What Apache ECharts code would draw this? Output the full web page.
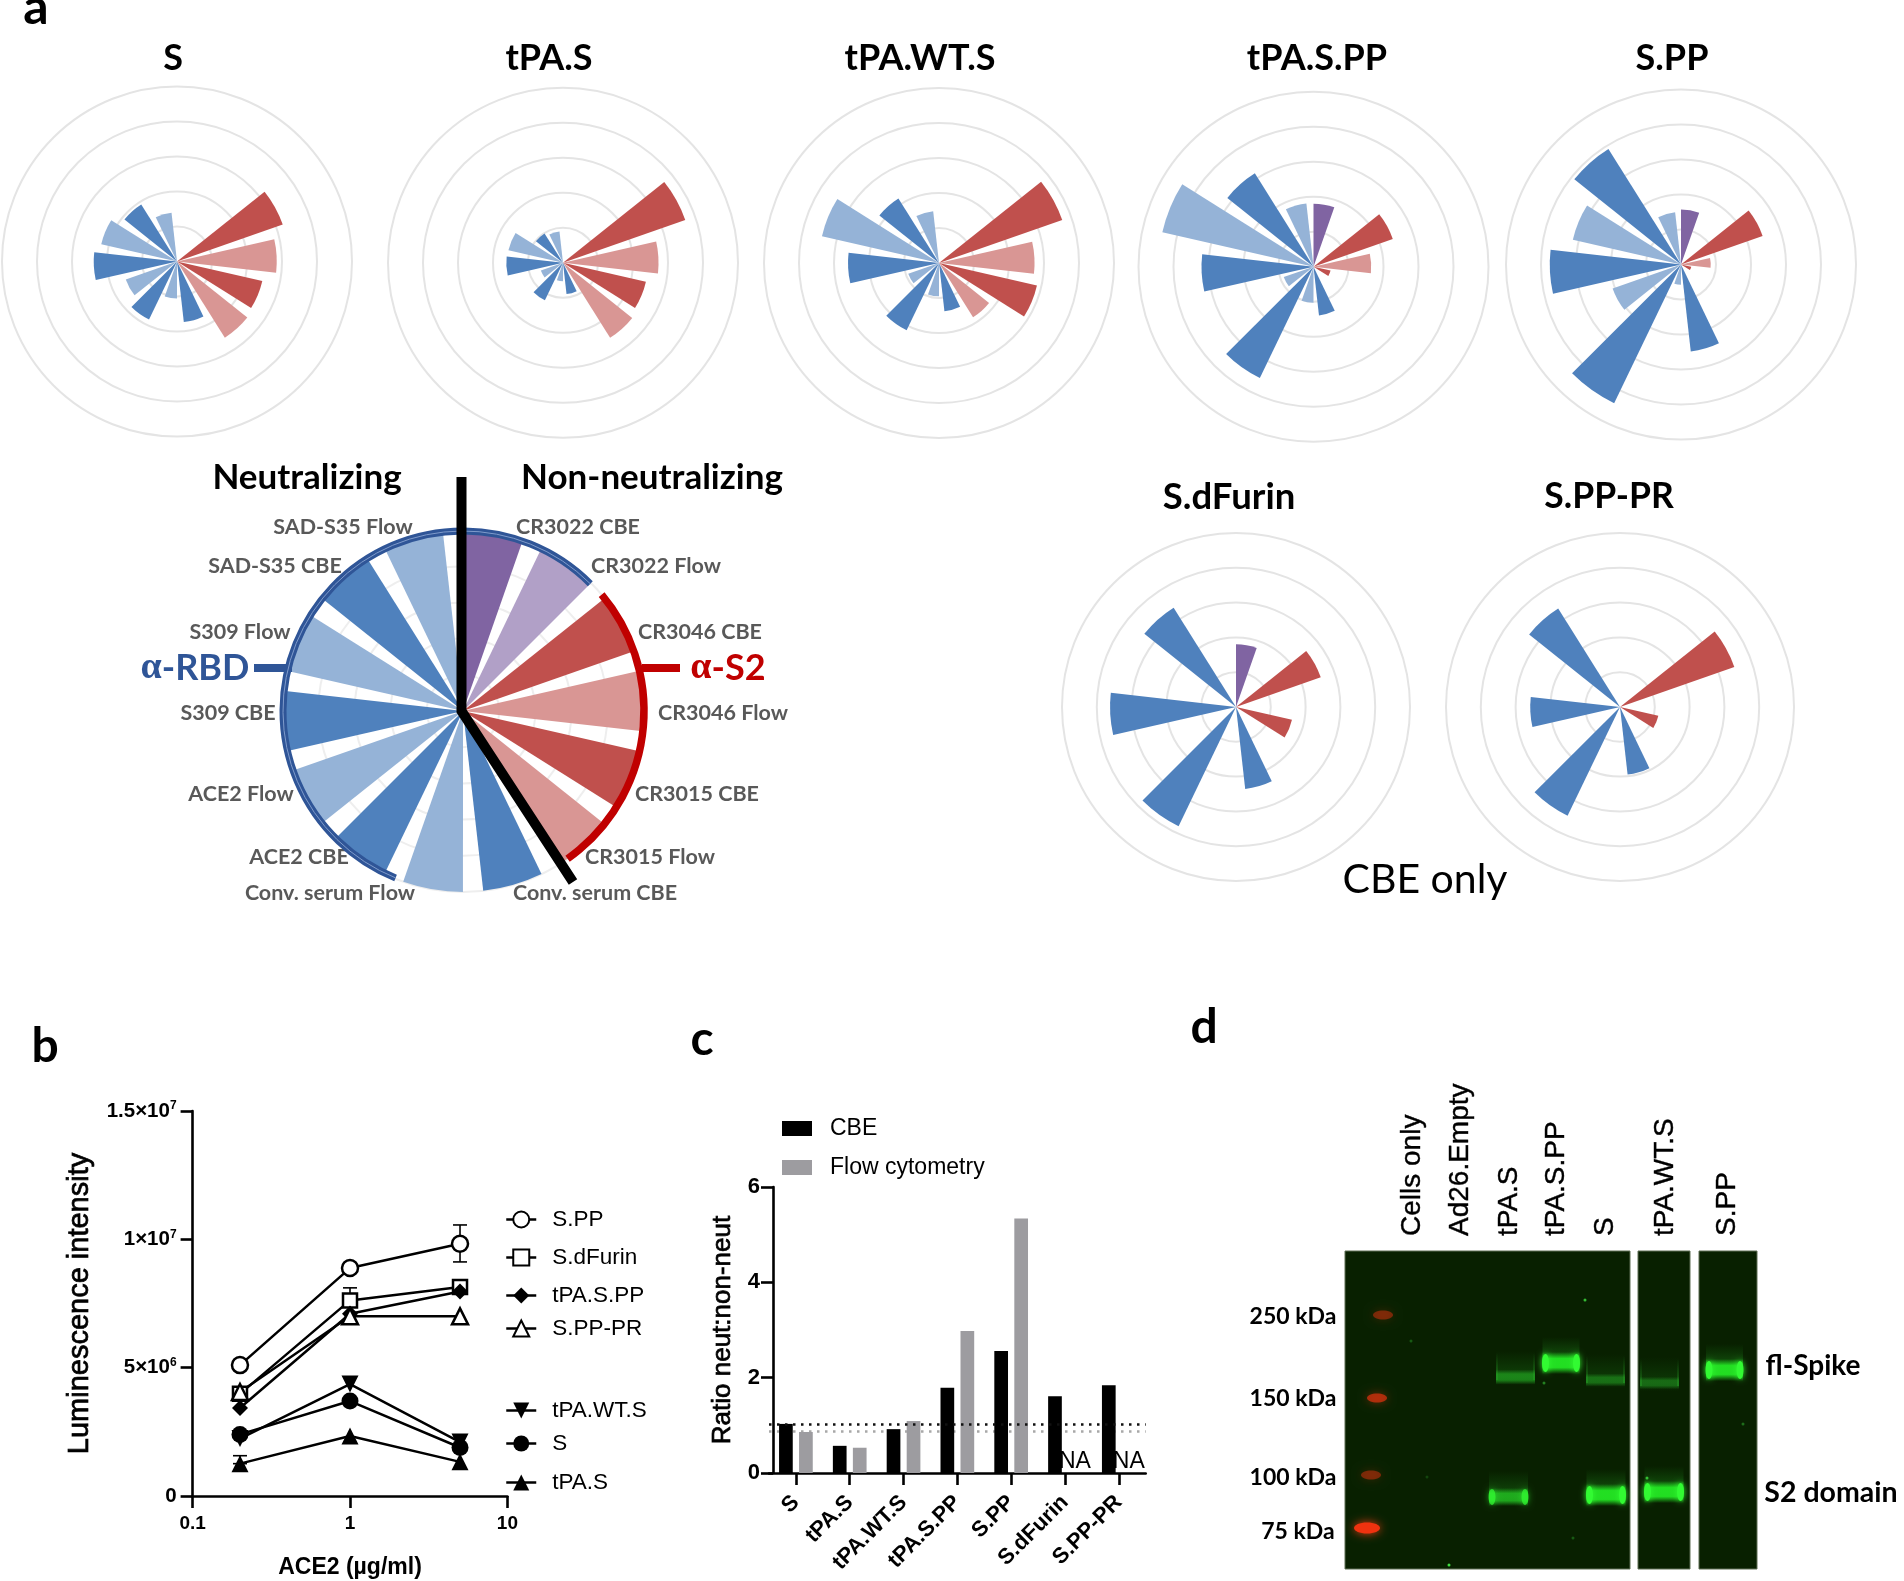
<!DOCTYPE html>
<html><head><meta charset="utf-8">
<style>html,body{margin:0;padding:0;background:#fff}#c{width:1904px;height:1581px}</style>
<script src="https://cdn.jsdelivr.net/npm/echarts@6/dist/echarts.min.js"></script>
</head><body><div id="c"></div>
<script>
// ---------- panel a ----------
const antibodies=['CR3022 CBE','CR3022 Flow','CR3046 CBE','CR3046 Flow','CR3015 CBE','CR3015 Flow','Conv. serum CBE','Conv. serum Flow','ACE2 CBE','ACE2 Flow','S309 CBE','S309 Flow','SAD-S35 CBE','SAD-S35 Flow'];
const roseS      =[0,0,3.2,2.85,2.5,2.57,1.74,1.06,1.84,1.55,2.38,2.22,1.92,1.4];
const roseTpaS   =[0,0,3.7,2.73,2.43,2.53,0.9,0.53,1.19,0.67,1.62,1.6,0.99,0.9];
const roseTpaWtS =[0,0,3.73,2.73,2.87,1.83,1.39,0.95,2.13,0.93,2.6,3.43,2.18,1.49];
const roseTpaSPP =[1.8,0,2.4,1.65,0.5,0,1.4,1.03,3.53,0.9,3.2,4.43,3.15,1.82];
const roseSPP    =[1.57,0,2.47,0.85,0.3,0,2.5,0.58,4.4,2.07,3.75,3.17,3.9,1.5];
const roseSdFurin=[1.8,0,2.58,0,1.65,0,2.37,0,3.8,0,3.62,0,3.37,0];
const roseSPPPR  =[0,0,3.48,0,1.13,0,1.95,0,3.47,0,2.58,0,3.34,0];
const roseKey    =[5,5,5,5,5,5,5,5,5,5,5,5,5,5];
const roseColors =['#8064A2','#B1A0C7','#C0504D','#D99694','#C0504D','#D99694','#4F81BD','#95B3D7','#4F81BD','#95B3D7','#4F81BD','#95B3D7','#4F81BD','#95B3D7'];
// ---------- panel b ----------
const doses=[0.2,1,5];
const lumSPP    =[5.1e6,8.88e6,9.83e6];
const lumSdFurin=[3.98e6,7.62e6,8.14e6];
const lumTpaSPP =[3.43e6,7.1e6,7.97e6];
const lumSPPPR  =[4.05e6,7.0e6,7.0e6];
const lumTpaWtS =[2.24e6,4.36e6,2.1e6];
const lumS      =[2.4e6,3.7e6,1.89e6];
const lumTpaS   =[1.26e6,2.34e6,1.33e6];
const errDose=[5,1,0.2];
const errLow =[9.12e6,7.62e6,1.26e6];
const errHigh=[10.56e6,8.11e6,1.57e6];
// ---------- panel c ----------
const vaccines=['S','tPA.S','tPA.WT.S','tPA.S.PP','S.PP','S.dFurin','S.PP-PR'];
const ratioCBE =[1.03,0.57,0.92,1.79,2.56,1.61,1.84];
const ratioFlow=[0.86,0.53,1.09,2.98,5.34,null,null];
const refCBE=1.03, refFlow=0.87;
// ---------- panel d ----------
const lanes=['Cells only','Ad26.Empty','tPA.S','tPA.S.PP','S','tPA.WT.S','S.PP'];
const kDaLabels=['250 kDa','150 kDa','100 kDa','75 kDa'];
const bandLane     =[170.5,216,260.5,314.5,379.5,163.5,261,319];
const bandMigration=[126,112,129,132,119,246,244,241];
const bandIntensity=[0.5,1,0.36,0.32,1,0.72,1,1];
const ladderLane     =[38,32,26,22];
const ladderMigration=[64,147,224,277];
const ladderIntensity=[0.45,0.65,0.45,1];
const speckLane     =[240,66,82,199,398,302,228,104];
const speckMigration=[49,90,226,132,173,227,287,314];
const speckIntensity=[0.8,0.3,0.2,0.5,0.4,0.8,0.3,1];

const sans='"Liberation Sans"', lato='Lato';
const roseLayout=[
 [roseS,177,261.5,175],[roseTpaS,563,262.8,175],[roseTpaWtS,939,263,175],[roseTpaSPP,1313.5,266.7,175],
 [roseSPP,1681,264.5,175],[roseSdFurin,1236,707,174],[roseSPPPR,1620,707,174],[roseKey,463,711,181]];
const keyLabelX=[578,656,700,723,697,650,595,330,299,241,228,240,275,343];
const keyLabelY=[527,566,632,713,794,857,893,893,857,794,713,632,566,527];
const polar=[],angleAxis=[],radiusAxis=[],series=[];
roseLayout.forEach(([vals,cx,cy,r],i)=>{
  const isKey=vals===roseKey;
  polar.push({center:[cx,cy],radius:[0,r]});
  angleAxis.push({polarIndex:i,type:'category',data:antibodies,startAngle:93.2,
    axisLine:{show:false},axisTick:{show:false},splitLine:{show:false},axisLabel:{show:false}});
  radiusAxis.push({polarIndex:i,type:'value',min:0,max:5,interval:1,
    axisLine:{show:false},axisTick:{show:false},axisLabel:{show:false},
    splitLine:{show:true,lineStyle:{color:isKey?'#eeeeee':'#e4e4e4',width:2}}});
  series.push({type:'bar',coordinateSystem:'polar',polarIndex:i,barWidth:'75%',silent:true,
    data:vals.map((v,k)=>({value:v,itemStyle:{color:roseColors[k]}}))});
});
// line series of panel b
const black={color:'#000',width:2.5};
const hollow={color:'#fff',borderColor:'#000',borderWidth:2.5}, solid={color:'#000',borderColor:'#000',borderWidth:0};
const lineDefs=[['S.PP',lumSPP,'circle',hollow,0,1219,16],['S.dFurin',lumSdFurin,'rect',hollow,0,1257,14],['tPA.S.PP',lumTpaSPP,'diamond',solid,0,1295,16],
 ['S.PP-PR',lumSPPPR,'triangle',hollow,0,1328,16],['tPA.WT.S',lumTpaWtS,'triangle',solid,180,1410,17],['S',lumS,'circle',solid,0,1443,17],['tPA.S',lumTpaS,'triangle',solid,0,1482,17]];
series.push({type:'custom',xAxisIndex:0,yAxisIndex:0,z:1,silent:true,encode:{x:0,y:[1,2]},clip:false,
  data:errDose.map((d,i)=>[d,errLow[i],errHigh[i]]),
  renderItem(p,api){const a=api.coord([api.value(0),api.value(1)]),b=api.coord([api.value(0),api.value(2)]),w=7;
    const st={stroke:'#000',lineWidth:1.6,fill:'none'};
    return {type:'group',children:[
      {type:'line',shape:{x1:a[0],y1:a[1],x2:b[0],y2:b[1]},style:st},
      {type:'line',shape:{x1:a[0]-w,y1:a[1],x2:a[0]+w,y2:a[1]},style:st},
      {type:'line',shape:{x1:b[0]-w,y1:b[1],x2:b[0]+w,y2:b[1]},style:st}]};}});
lineDefs.forEach(([n,v,sym,st,rot,,size])=>series.push({type:'line',name:n,xAxisIndex:0,yAxisIndex:0,symbol:sym,symbolSize:size,symbolRotate:rot,
  showAllSymbol:true,lineStyle:black,itemStyle:st,silent:true,z:3,data:doses.map((d,i)=>[d,v[i]])}));
// bars panel c
series.push({type:'bar',name:'CBE',xAxisIndex:1,yAxisIndex:1,data:ratioCBE,barWidth:13.7,barGap:'46%',itemStyle:{color:'#000'},silent:true,
  markLine:{silent:true,symbol:'none',z:5,animation:false,label:{show:false},data:[{yAxis:refCBE}],lineStyle:{color:'#111',type:[2.5,5.5],width:2.6}}});
series.push({type:'bar',name:'Flow cytometry',xAxisIndex:1,yAxisIndex:1,barWidth:13.7,itemStyle:{color:'#9D9CA0'},silent:true,
  data:ratioFlow.map(v=>v===null?{value:0,label:{show:true,formatter:'NA',position:'top',distance:0,color:'#000',fontFamily:sans,fontSize:23}}:v),
  markLine:{silent:true,symbol:'none',z:1,animation:false,label:{show:false},data:[{yAxis:refFlow}],lineStyle:{color:'#a8a8a8',type:[2.5,5.5],width:2.6}}});
// gel panel d
const gelPanels=[[0,285],[293,345],[354,412]];
series.push({type:'custom',xAxisIndex:2,yAxisIndex:2,silent:true,z:1,clip:false,data:gelPanels,encode:{x:[0,1]},
  renderItem(p,api){const a=api.coord([api.value(0),0]),b=api.coord([api.value(1),318]);
    return {type:'rect',shape:{x:a[0],y:a[1],width:b[0]-a[0],height:b[1]-a[1]},style:{fill:'#082000',stroke:'#5f6f55',lineWidth:1}};}});
series.push({type:'custom',xAxisIndex:2,yAxisIndex:2,silent:true,z:2,clip:false,encode:{x:0,y:1},
  data:bandLane.map((l,i)=>[l,bandMigration[i],bandIntensity[i]]),
  renderItem(p,api){const x=api.value(0),y=api.value(1),k=api.value(2),hw=k>=.9&&(x<230||x>370)?18.5:19.5;
    const G=echarts.graphic.LinearGradient;
    const a=api.coord([x-hw,y-26]),b=api.coord([x+hw,y+8]);
    const ch=4+7*k;
    const c1=api.coord([x-hw,y-ch]),c2=api.coord([x+hw,y+ch]);
    const gcol=Math.round(120+110*k);
    const col=`rgba(35,${gcol},35,`;
    const kids=[
      {type:'rect',shape:{x:a[0],y:a[1],width:b[0]-a[0],height:b[1]-a[1]},
       style:{fill:new G(0,0,0,1,[{offset:0,color:'rgba(40,190,40,0)'},{offset:.76,color:`rgba(40,190,40,${.3*k+.06})`},{offset:1,color:'rgba(40,190,40,0)'}])}},
      {type:'rect',shape:{x:c1[0],y:c1[1],width:c2[0]-c1[0],height:c2[1]-c1[1]},
       style:{fill:new G(0,0,0,1,[{offset:0,color:col+'0)'},{offset:.3,color:col+(.3+.65*k)+')'},{offset:.7,color:col+(.3+.65*k)+')'},{offset:1,color:col+'0)'}])}}];
    [-1,1].forEach(s=>{
      if(k>=.7){const e=api.coord([x+s*(hw-3),y]);
        kids.push({type:'ellipse',shape:{cx:e[0],cy:e[1],rx:3.5,ry:5+4*k},style:{fill:`rgba(50,250,50,${k})`,shadowBlur:6,shadowColor:`rgba(50,250,50,${k})`}});}
      else{const e1=api.coord([x+s*(hw-1),y-24]),e2=api.coord([x+s*(hw-1),y+3]);
        kids.push({type:'rect',shape:{x:e1[0]-1,y:e1[1],width:2,height:e2[1]-e1[1]},
          style:{fill:new G(0,0,0,1,[{offset:0,color:'rgba(40,170,40,0)'},{offset:1,color:'rgba(40,170,40,.4)'}])}});}
    });
    return {type:'group',children:kids};}});
series.push({type:'custom',xAxisIndex:2,yAxisIndex:2,silent:true,z:3,clip:false,encode:{x:0,y:1},
  data:ladderLane.map((l,i)=>[l,ladderMigration[i],ladderIntensity[i]]),
  renderItem(p,api){const c=api.coord([api.value(0),api.value(1)]),k=api.value(2);
    return {type:'ellipse',shape:{cx:c[0],cy:c[1],rx:k>=.9?13:10,ry:k>=.9?5.5:4.5},
      style:{fill:`rgba(240,50,15,${k})`,shadowBlur:10,shadowColor:`rgba(230,60,20,${k})`}};}});
series.push({type:'scatter',xAxisIndex:2,yAxisIndex:2,silent:true,z:3,symbolSize:3,clip:false,
  itemStyle:{color:'#40E040'},data:speckLane.map((l,i)=>({value:[l,speckMigration[i]],itemStyle:{opacity:speckIntensity[i]}}))});

// text
const t=(text,left,top,font,size,weight,color,extra)=>({text,left,top,padding:0,textAlign:'center',textVerticalAlign:'middle',
  textStyle:Object.assign({fontFamily:font,fontSize:size,fontWeight:weight,color:color||'#000'},extra||{})});
const alphaRich=(c)=>({rich:{a:{fontFamily:'"Liberation Serif"',fontSize:38,color:c},b:{fontFamily:lato,fontSize:36,fontWeight:'bold',color:c}}});
const title=[
 t('a',36,8,lato,50,'bold'),t('b',45,1047,lato,48,'bold'),t('c',702,1040,lato,48,'bold'),t('d',1204,1028,lato,48,'bold'),
 t('S',173,58,lato,36,'bold'),t('tPA.S',549,58,lato,36,'bold'),t('tPA.WT.S',920,58,lato,36,'bold'),t('tPA.S.PP',1317,58,lato,36,'bold'),t('S.PP',1672,58,lato,36,'bold'),
 t('S.dFurin',1229,497,lato,36.5,'bold'),t('S.PP-PR',1609,497,lato,35.5,'bold'),
 t('Neutralizing',307,478,lato,35,'bold'),t('Non-neutralizing',652,478,lato,35,'bold'),t('CBE only',1425,880,lato,41,'normal'),
 t('{a|α}{b|-RBD}',195,668,lato,36,'bold','#2F5597',alphaRich('#2F5597')),t('{a|α}{b|-S2}',728,668,lato,36,'bold','#C00000',alphaRich('#C00000')),
 t('fl-Spike',1813,1366,lato,28,'bold'),t('S2 domain',1831,1493,lato,28.5,'bold'),
 ...kDaLabels.map((s,i)=>t(s,[1293,1293,1293,1298][i],[1317,1399,1478,1532][i],lato,23,'bold')),
 ...antibodies.map((s,i)=>t(s,keyLabelX[i],keyLabelY[i],lato,21.5,'bold','#595959')),
];
const graphic=[
 {type:'arc',z:50,silent:true,shape:{cx:463,cy:711,r:180,startAngle:112*Math.PI/180,endAngle:315*Math.PI/180,clockwise:true},style:{stroke:'#2F5597',lineWidth:7,fill:'none'}},
 {type:'arc',z:51,silent:true,shape:{cx:463,cy:711,r:180,startAngle:112*Math.PI/180,endAngle:315*Math.PI/180,clockwise:true},style:{stroke:'#7F9BCB',lineWidth:1,fill:'none'}},
 {type:'arc',z:50,silent:true,shape:{cx:463,cy:711,r:181,startAngle:-40*Math.PI/180,endAngle:54.7*Math.PI/180,clockwise:true},style:{stroke:'#C00000',lineWidth:7.5,fill:'none'}},
 {type:'rect',z:50,silent:true,shape:{x:254,y:664,width:38,height:8},style:{fill:'#2F5597'}},
 {type:'rect',z:50,silent:true,shape:{x:642,y:664,width:38,height:8},style:{fill:'#C00000'}},
 {type:'polyline',z:60,silent:true,shape:{points:[[461.5,477],[461.5,711],[573,882]]},style:{stroke:'#000',lineWidth:10,fill:'none'}},
 ...lanes.map((s,i)=>({type:'text',z:60,silent:true,x:[1412,1460,1509,1556,1605,1665,1727][i],y:1236,rotation:Math.PI/2,
   style:{text:s,fill:'#000',stroke:'#000',lineWidth:.4,font:`28px ${sans}`,textAlign:'left',textVerticalAlign:'middle'}})),
];
const axisBlack={show:true,onZero:false,lineStyle:{color:'#000',width:2.6}};
const tickBlack={show:true,length:12,lineStyle:{color:'#000',width:2.6}};
const legendB=lineDefs.map(([n,,,,,y])=>({data:[n],left:505,top:y-11,orient:'horizontal',selectedMode:false,itemWidth:30,itemHeight:20,padding:0,
  lineStyle:{width:2.5},textStyle:{fontFamily:sans,fontSize:22.5,color:'#000',padding:[0,0,0,11]}}));
const legendC=[['CBE',1127],['Flow cytometry',1166]].map(([n,y])=>({data:[{name:n,icon:'rect'}],left:782,top:y-10,selectedMode:false,itemWidth:30,itemHeight:15,padding:0,
  textStyle:{fontFamily:sans,fontSize:23,color:'#000',padding:[0,0,0,13]}}));
const heavy={textBorderColor:'#000',textBorderWidth:0.7};
const option={animation:false,backgroundColor:'#fff',title,graphic,polar,angleAxis,radiusAxis,
 legend:[...legendB,...legendC],
 grid:[{left:192.6,top:1111,width:314.8,height:385},{left:769,top:1187,width:376.7,height:286},{left:1345,top:1251,width:412,height:318}],
 xAxis:[
  {gridIndex:0,type:'log',logBase:10,min:0.1,max:10,axisLine:axisBlack,axisTick:tickBlack,minorTick:{show:false},splitLine:{show:false},
   axisLabel:{color:'#000',fontFamily:sans,fontWeight:'bold',fontSize:19,margin:18,formatter:v=>String(+v.toPrecision(2))},
   name:'ACE2 (µg/ml)',nameLocation:'middle',nameGap:60,nameTextStyle:{color:'#000',fontFamily:sans,fontWeight:'bold',fontSize:23}},
  {gridIndex:1,type:'category',data:vaccines,axisLine:axisBlack,axisTick:Object.assign({alignWithLabel:true},tickBlack),
   axisLabel:{interval:0,rotate:45,color:'#000',fontFamily:sans,fontWeight:'bold',fontSize:22,margin:26}},
  {gridIndex:2,type:'value',min:0,max:412,show:false}],
 yAxis:[
  {gridIndex:0,type:'value',min:0,max:1.5e7,interval:5e6,axisLine:axisBlack,axisTick:tickBlack,splitLine:{show:false},
   axisLabel:{color:'#000',fontFamily:sans,fontWeight:'bold',fontSize:20.5,margin:16,
     formatter:v=>{if(!v)return '0';const e=Math.floor(Math.log10(v));return `${+(v/10**e).toFixed(1)}×10{sup|${e}}`;},
     rich:{sup:{fontFamily:sans,fontWeight:'bold',fontSize:12,padding:[0,0,10,0],color:'#000'}}},
   name:'Luminescence intensity',nameLocation:'middle',nameGap:98,nameTextStyle:Object.assign({color:'#000',fontFamily:sans,fontSize:29},heavy)},
  {gridIndex:1,type:'value',min:0,max:6,interval:2,offset:-4,axisLine:axisBlack,axisTick:tickBlack,splitLine:{show:false},
   axisLabel:{color:'#000',fontFamily:sans,fontWeight:'bold',fontSize:22,margin:13},
   name:'Ratio neut:non-neut',nameLocation:'middle',nameGap:37,nameTextStyle:Object.assign({color:'#000',fontFamily:sans,fontSize:26},heavy)},
  {gridIndex:2,type:'value',min:0,max:318,inverse:true,show:false}],
 series};
const chart=echarts.init(document.getElementById('c'),null,{renderer:'canvas',width:1904,height:1581});
chart.setOption(option);
</script></body></html>
